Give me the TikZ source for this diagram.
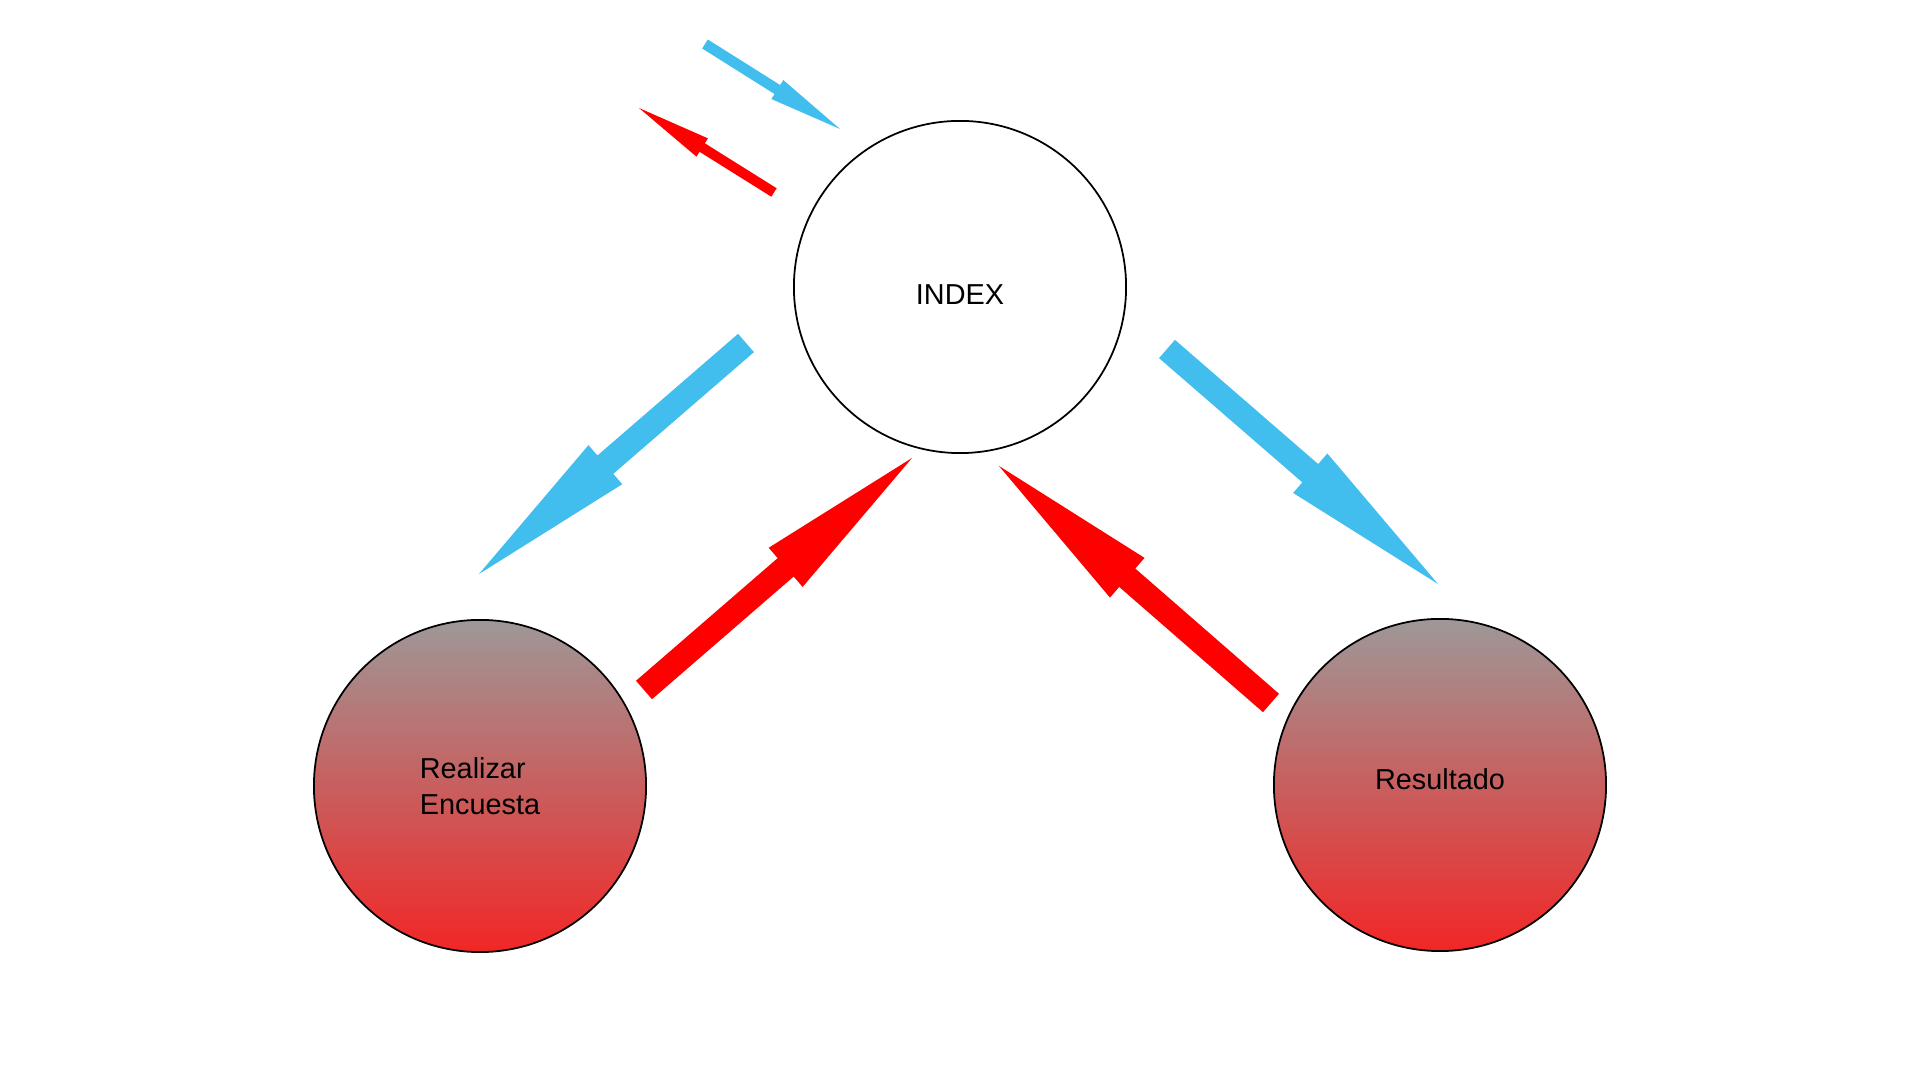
\documentclass[tikz,border=0pt]{standalone}
\usepackage{fontspec}
\setmainfont{Liberation Sans}
\usepackage{xcolor}
\usetikzlibrary{calc}

\definecolor{flowblue}{RGB}{65,189,238}
\definecolor{flowred}{RGB}{255,0,0}
\definecolor{topgrey}{RGB}{158,152,152}
\definecolor{bottomred}{RGB}{242,38,38}

\tikzset{
  circnode/.style={circle, draw=black, line width=0.5pt, minimum size=3.32cm,
    inner sep=0pt, align=left, font=\fontsize{8.2}{10.2}\selectfont},
  shadednode/.style={circnode, top color=topgrey, bottom color=bottomred},
}

% block arrow: colour, tail, tip, half shaft, half head, head length
\newcommand{\blockarrow}[6]{%
  \coordinate (#3-hb) at ($(#3)!#6!(#2)$);
  \fill[#1] ($(#2)!#4!90:(#3)$) -- ($(#3-hb)!#4!90:(#3)$)
    -- ($(#3-hb)!#5!90:(#3)$) -- (#3)
    -- ($(#3-hb)!#5!-90:(#3)$) -- ($(#3-hb)!#4!-90:(#3)$)
    -- ($(#2)!#4!-90:(#3)$) -- cycle;
}

\begin{document}
\begin{tikzpicture}[x=0.01cm, y=-0.01cm]
        \useasboundingbox (0,0) rectangle (1920,1080);

        % Nodes
        \node[circnode, text height=9.8pt] (index) at (960,287) {INDEX};
        \node[shadednode] (encuesta) at (480,786) {Realizar\\Encuesta};
        \node[shadednode, text depth=3.4pt] (resultado) at (1440,785) {Resultado};

        % Arrow ends
        \coordinate (inA) at (705,44);      \coordinate (inAtip) at (840,129);
        \coordinate (outB) at (774,192.5);  \coordinate (outBtip) at (639,108);
        \coordinate (toEnc) at (746,343);   \coordinate (toEnctip) at (479,574);
        \coordinate (fromEnc) at (644,690); \coordinate (fromEnctip) at (912,458);
        \coordinate (fromRes) at (1271,703);\coordinate (fromRestip) at (999,466);
        \coordinate (toRes) at (1167,349);  \coordinate (toRestip) at (1438,584);

        % Small arrows
        \blockarrow{flowblue}{inA}{inAtip}{0.053cm}{0.112cm}{0.74cm}
        \blockarrow{flowred}{outB}{outBtip}{0.05cm}{0.108cm}{0.745cm}

        % Big arrows
        \blockarrow{flowblue}{toEnc}{toEnctip}{0.121cm}{0.258cm}{1.67cm}
        \blockarrow{flowred}{fromEnc}{fromEnctip}{0.122cm}{0.259cm}{1.67cm}
        \blockarrow{flowred}{fromRes}{fromRestip}{0.122cm}{0.263cm}{1.70cm}
        \blockarrow{flowblue}{toRes}{toRestip}{0.121cm}{0.261cm}{1.69cm}
\end{tikzpicture}
\end{document}
